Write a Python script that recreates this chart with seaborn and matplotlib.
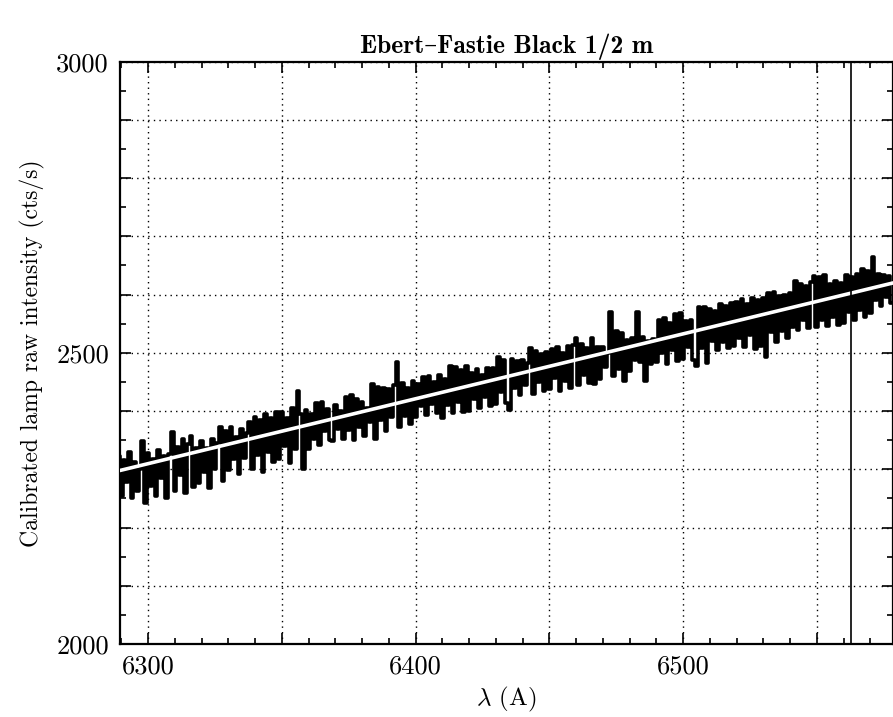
import numpy as np
import pandas as pd
import matplotlib
matplotlib.use('Agg')
import matplotlib.pyplot as plt
import seaborn as sns
from matplotlib.ticker import MultipleLocator, FuncFormatter

# ------------------------------------------------------------
# data (1 A sampling, 6289 .. 6578 A)
# ------------------------------------------------------------
wave_start = 6289
counts = [
    2322, 2255, 2316, 2278, 2330, 2250, 2312, 2262, 2300, 2348,
    2242, 2328, 2272, 2318, 2255, 2334, 2285, 2322, 2250, 2326,
    2364, 2262, 2338, 2290, 2352, 2260, 2344, 2358, 2270, 2336,
    2276, 2348, 2295, 2336, 2268, 2352, 2300, 2345, 2372, 2280,
    2366, 2298, 2372, 2318, 2355, 2292, 2370, 2320, 2362, 2382,
    2300, 2390, 2325, 2384, 2296, 2395, 2330, 2388, 2312, 2398,
    2318, 2398, 2340, 2388, 2310, 2405, 2335, 2434, 2395, 2300,
    2402, 2335, 2395, 2352, 2414, 2342, 2416, 2365, 2404, 2350,
    2348, 2410, 2370, 2400, 2352, 2424, 2368, 2428, 2350, 2420,
    2372, 2416, 2358, 2405, 2382, 2446, 2352, 2442, 2385, 2440,
    2366, 2438, 2390, 2444, 2484, 2372, 2448, 2392, 2440, 2378,
    2452, 2390, 2446, 2408, 2458, 2394, 2460, 2412, 2450, 2396,
    2462, 2388, 2455, 2410, 2478, 2396, 2476, 2415, 2470, 2398,
    2478, 2400, 2466, 2420, 2472, 2406, 2462, 2425, 2474, 2408,
    2474, 2412, 2492, 2432, 2488, 2414, 2402, 2490, 2440, 2486,
    2428, 2488, 2445, 2482, 2508, 2430, 2504, 2450, 2498, 2434,
    2502, 2438, 2506, 2456, 2510, 2434, 2500, 2452, 2512, 2440,
    2514, 2526, 2444, 2516, 2462, 2508, 2448, 2526, 2446, 2510,
    2455, 2510, 2475, 2500, 2570, 2460, 2538, 2472, 2534, 2452,
    2522, 2468, 2526, 2488, 2570, 2484, 2528, 2452, 2520, 2480,
    2524, 2484, 2556, 2500, 2560, 2480, 2552, 2505, 2566, 2486,
    2568, 2490, 2554, 2510, 2556, 2488, 2478, 2578, 2508, 2578,
    2482, 2576, 2520, 2572, 2505, 2584, 2518, 2580, 2508, 2586,
    2512, 2588, 2525, 2592, 2510, 2584, 2530, 2594, 2506, 2590,
    2512, 2594, 2492, 2602, 2535, 2604, 2518, 2598, 2538, 2600,
    2526, 2602, 2545, 2624, 2540, 2618, 2556, 2614, 2542, 2622,
    2632, 2544, 2630, 2556, 2634, 2546, 2618, 2562, 2624, 2548,
    2620, 2552, 2634, 2570, 2630, 2556, 2636, 2574, 2644, 2562,
    2640, 2568, 2664, 2590, 2636, 2580, 2634, 2596, 2632, 2586,
]
wavelength = np.arange(wave_start, wave_start + len(counts))

# linear fit drawn in white
fit_wave = [6289.5, 6578.5]
fit_counts = [2298, 2620]

# H-alpha marker
halpha = 6562.8

spec = pd.DataFrame({'wave': wavelength, 'counts': counts})
fit = pd.DataFrame({'wave': fit_wave, 'counts': fit_counts})

# ------------------------------------------------------------
# style
# ------------------------------------------------------------
sns.set_theme(style='ticks')
plt.rcParams['font.family'] = ['cmr10', 'DejaVu Serif']
plt.rcParams['mathtext.fontset'] = 'cm'
plt.rcParams['axes.unicode_minus'] = False

fig = plt.figure(figsize=(8.93, 7.17), dpi=100)
ax = fig.add_axes([0.1344, 0.1018, 0.8656, 0.8122])

sns.lineplot(data=spec, x='wave', y='counts', ax=ax, color='black',
             linewidth=2.6, drawstyle='steps-mid', estimator=None, zorder=3)
sns.lineplot(data=fit, x='wave', y='counts', ax=ax, color='white',
             linewidth=2.6, estimator=None, zorder=4)
ax.axvline(halpha, color='black', linewidth=1.2, zorder=5)

ax.set_xlim(6289.5, 6578.5)
ax.set_ylim(2000, 3000)

ax.xaxis.set_major_locator(MultipleLocator(50))
ax.xaxis.set_minor_locator(MultipleLocator(10))
ax.yaxis.set_major_locator(MultipleLocator(100))
ax.yaxis.set_minor_locator(MultipleLocator(50))
ax.xaxis.set_major_formatter(FuncFormatter(lambda v, p: f'{v:.0f}' if round(v) % 100 == 0 else ''))
ax.yaxis.set_major_formatter(FuncFormatter(lambda v, p: f'{v:.0f}' if round(v) % 500 == 0 else ''))

ax.tick_params(which='both', direction='in', top=True, right=True,
               color='black', width=1.2, labelsize=19, labelcolor='black')
ax.tick_params(which='major', length=8, pad=8)
ax.tick_params(which='minor', length=4)
ax.grid(True, which='major', linestyle=(0, (1, 3)), color='black', linewidth=1.0)
for s in ax.spines.values():
    s.set_linewidth(1.6)
    s.set_color('black')

ax.set_xlabel(r'$\lambda$ (A)', fontsize=18, color='black', labelpad=4)
ax.set_ylabel('Calibrated lamp raw intensity (cts/s)', fontsize=17, color='black', labelpad=8)
ax.set_title('Ebert–Fastie Black 1/2 m', fontsize=18.5, color='black',
             family=['cmb10', 'DejaVu Serif'], pad=6)

fig.savefig('out.png', dpi=100)
